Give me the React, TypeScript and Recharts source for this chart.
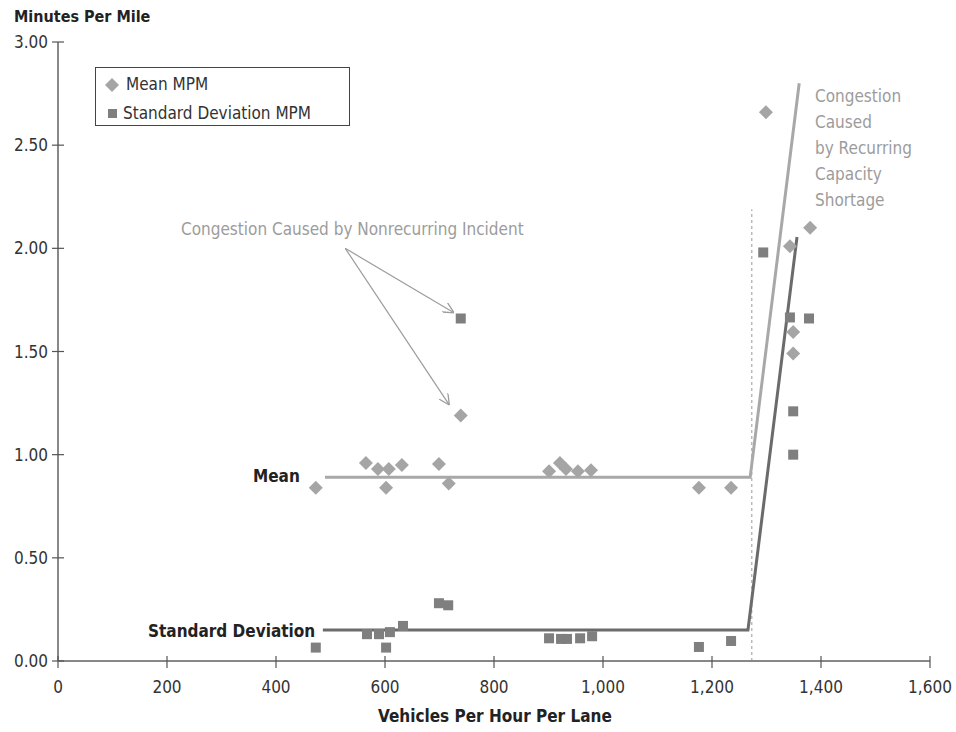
import { ComposedChart, Scatter, XAxis, YAxis, ReferenceLine } from "recharts";

const font = '"Liberation Sans Narrow", "DejaVu Sans Condensed", "Arial Narrow", sans-serif';
const meanColor = "#A5A5A5";
const sdColor = "#7F7F7F";
const noteColor = "#9C9C9C";

// Mean MPM (vehicles per hour per lane, minutes per mile)
const meanX = [473, 565, 587, 602, 607, 631, 699, 717, 739, 901, 921, 932, 954, 978, 1176, 1235, 1299, 1343, 1380, 1349, 1349];
const meanY = [0.84, 0.96, 0.93, 0.84, 0.93, 0.95, 0.955, 0.86, 1.19, 0.92, 0.96, 0.93, 0.92, 0.925, 0.84, 0.84, 2.66, 2.01, 2.1, 1.595, 1.49];

// Standard deviation MPM
const sdX = [473, 567, 589, 602, 609, 633, 699, 716, 739, 901, 923, 934, 958, 980, 1176, 1235, 1294, 1343, 1378, 1349, 1349];
const sdY = [0.065, 0.13, 0.13, 0.065, 0.14, 0.17, 0.28, 0.27, 1.66, 0.11, 0.107, 0.107, 0.11, 0.12, 0.068, 0.097, 1.98, 1.665, 1.66, 1.21, 1.0];

// fitted piecewise lines
const meanFitX = [490, 1270, 1360];
const meanFitY = [0.89, 0.89, 2.8];
const sdFitX = [486, 1266, 1356];
const sdFitY = [0.15, 0.15, 2.055];

// capacity marker and annotation arrows
const capacityX = 1273;
const capacityTop = 2.19;
const arrowFrom = { x: 527, y: 2.0 };
const arrowTo = [{ x: 725, y: 1.69 }, { x: 717, y: 1.245 }];

const xTicks = [0, 200, 400, 600, 800, 1000, 1200, 1400, 1600];
const yTicks = [0, 0.5, 1, 1.5, 2, 2.5, 3];

const zip = (xs: number[], ys: number[]) => xs.map((x, i) => ({ x, y: ys[i] }));
const meanData = zip(meanX, meanY);
const sdData = zip(sdX, sdY);
const meanFit = zip(meanFitX, meanFitY);
const sdFit = zip(sdFitX, sdFitY);

function Diamond(props: any) {
  const { cx, cy } = props;
  const r = 7;
  return <polygon points={`${cx},${cy - r} ${cx + r},${cy} ${cx},${cy + r} ${cx - r},${cy}`} fill={meanColor} />;
}

function Square(props: any) {
  const { cx, cy } = props;
  return <rect x={cx - 5} y={cy - 5} width={10} height={10} fill={sdColor} />;
}

const Nothing = () => <g />;

function YTick(props: any) {
  const { x, y, payload } = props;
  return (
    <g>
      <line x1={x + 4} x2={x + 16} y1={y} y2={y} stroke="#555" strokeWidth={1.2} />
      <text x={x} y={y + 6} textAnchor="end" fontSize={17} fill="#333" fontFamily={font}>
        {payload.value.toFixed(2)}
      </text>
    </g>
  );
}

function XTick(props: any) {
  const { x, y, payload } = props;
  return (
    <g>
      <line x1={x} x2={x} y1={y - 7} y2={y + 5} stroke="#555" strokeWidth={1.2} />
      <text x={x} y={y + 30} textAnchor="middle" fontSize={17} fill="#333" fontFamily={font}>
        {payload.value.toLocaleString("en-US")}
      </text>
    </g>
  );
}

const abs = (left: number, top: number, extra: any = {}) => ({
  position: "absolute" as const,
  left,
  top,
  fontFamily: font,
  whiteSpace: "nowrap" as const,
  lineHeight: 1,
  ...extra,
});

export default function App() {
  return (
    <div style={{ position: "absolute", left: 0, top: 0, width: 956, height: 732, background: "#fff" }}>
      <ComposedChart width={956} height={732} margin={{ top: 42, right: 26, bottom: 31, left: 8 }}>
        <defs>
          <marker id="arrowHead" viewBox="0 0 10 10" refX="9" refY="5" markerWidth="9" markerHeight="9" orient="auto">
            <path d="M0,0 L10,5 L0,10" fill="none" stroke={noteColor} strokeWidth={1.2} />
          </marker>
        </defs>
        <XAxis
          type="number"
          dataKey="x"
          domain={[0, 1600]}
          ticks={xTicks}
          tickLine={false}
          tickSize={0}
          axisLine={{ stroke: "#888", strokeWidth: 2 }}
          tick={<XTick />}
          height={40}
          allowDataOverflow
        />
        <YAxis
          type="number"
          dataKey="y"
          domain={[0, 3]}
          ticks={yTicks}
          tickLine={false}
          tickSize={0}
          tickMargin={10}
          axisLine={{ stroke: "#888", strokeWidth: 2 }}
          tick={<YTick />}
          width={50}
          allowDataOverflow
        />
        <ReferenceLine
          segment={[{ x: capacityX, y: 0 }, { x: capacityX, y: capacityTop }]}
          stroke="#AAA"
          strokeDasharray="3 3"
          strokeWidth={1.2}
        />
        <Scatter data={meanFit} line={{ stroke: "#A8A8A8", strokeWidth: 3 }} shape={<Nothing />} isAnimationActive={false} />
        <Scatter data={sdFit} line={{ stroke: "#6B6B6B", strokeWidth: 3 }} shape={<Nothing />} isAnimationActive={false} />
        {arrowTo.map((p, i) => (
          <Scatter
            key={i}
            data={[arrowFrom, p]}
            line={{ stroke: noteColor, strokeWidth: 1.2, markerEnd: "url(#arrowHead)" }}
            shape={<Nothing />}
            isAnimationActive={false}
          />
        ))}
        <Scatter data={meanData} shape={<Diamond />} isAnimationActive={false} />
        <Scatter data={sdData} shape={<Square />} isAnimationActive={false} />
      </ComposedChart>

      <div style={abs(14, 9, { fontSize: 16, fontWeight: "bold", color: "#222" })}>Minutes Per Mile</div>
      <div style={abs(378, 708, { fontSize: 17, fontWeight: "bold", color: "#222" })}>Vehicles Per Hour Per Lane</div>

      <div
        style={{
          position: "absolute",
          left: 95,
          top: 67,
          width: 255,
          height: 59,
          border: "1.5px solid #444",
          boxSizing: "border-box",
          fontFamily: font,
          fontSize: 17,
          color: "#333",
        }}
      >
        <svg style={{ position: "absolute", left: 9, top: 10 }} width={14} height={14}>
          <polygon points="7,0 14,7 7,14 0,7" fill={meanColor} />
        </svg>
        <div style={{ position: "absolute", left: 30, top: 8, lineHeight: 1 }}>Mean MPM</div>
        <svg style={{ position: "absolute", left: 12, top: 41 }} width={9} height={9}>
          <rect width={9} height={9} fill={sdColor} />
        </svg>
        <div style={{ position: "absolute", left: 27, top: 37, lineHeight: 1 }}>Standard Deviation MPM</div>
      </div>

      <div style={abs(181, 221, { fontSize: 17, color: noteColor })}>Congestion Caused by Nonrecurring Incident</div>
      <div style={abs(815, 83, { fontSize: 17, color: noteColor, lineHeight: "26px", whiteSpace: "pre" })}>
        {"Congestion\nCaused\nby Recurring\nCapacity\nShortage"}
      </div>
      <div style={abs(253, 468, { fontSize: 17, fontWeight: "bold", color: "#222" })}>Mean</div>
      <div style={abs(148, 623, { fontSize: 17, fontWeight: "bold", color: "#222" })}>Standard Deviation</div>
    </div>
  );
}
